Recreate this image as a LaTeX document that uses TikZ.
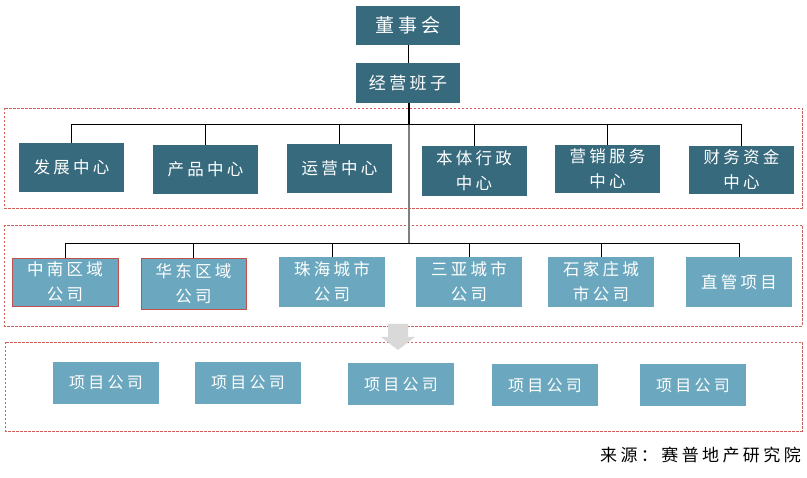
\documentclass[tikz,border=0pt]{standalone}
\usepackage{fontspec}
\newfontfamily\cjk[LetterSpace=20]{Noto Sans CJK SC}
\definecolor{darkteal}{HTML}{376A7D}
\definecolor{lightteal}{HTML}{6BA8BF}
\definecolor{redb}{HTML}{C0504D}
\definecolor{dashred}{HTML}{D0605A}
\definecolor{arrowgray}{HTML}{D9D9D9}
\definecolor{trunkgray}{HTML}{7F7F7F}
\begin{document}
\begin{tikzpicture}[x=1pt,y=-1pt,
  darkbox/.style={fill=darkteal,text=white,font=\cjk\fontsize{16.5}{25}\selectfont,align=center,inner sep=0pt,minimum width=105pt,minimum height=49pt},
  lightbox/.style={fill=lightteal,text=white,font=\cjk\fontsize{16.5}{25}\selectfont,align=center,inner sep=0pt,minimum width=106pt,minimum height=50pt},
  redbox/.style={lightbox,draw=redb,line width=0.9pt},
  projbox/.style={lightbox,minimum height=42pt,font=\cjk\fontsize{16}{20}\selectfont},
  group/.style={draw=dashred,dash pattern=on 2.5pt off 1.5pt,line width=0.7pt},
  conn/.style={draw=black,line width=0.9pt}
]
\useasboundingbox (0,0) rectangle (807,478);
% group frames
\draw[group] (4,108) rectangle (802,208);
\draw[group] (4,225) rectangle (802,326);
\draw[group] (5,342) rectangle (802,431);
% top
\node[darkbox,minimum width=104pt,minimum height=39pt,font=\cjk\fontsize{19}{24}\selectfont] (board) at (408,25.5) {董事会};
\node[darkbox,minimum width=104pt,minimum height=40pt,font=\cjk\fontsize{17}{24}\selectfont] (mgmt) at (408,83) {经营班子};
% row 1
\node[darkbox] (a1) at (71.5,167.5) {发展中心};
\node[darkbox] (a2) at (205.5,169.5) {产品中心};
\node[darkbox] (a3) at (339.5,168.5) {运营中心};
\node[darkbox,minimum height=50pt] (a4) at (474,171) {本体行政\\中心};
\node[darkbox,minimum height=48pt] (a5) at (607.5,169) {营销服务\\中心};
\node[darkbox,minimum height=48pt] (a6) at (741.5,170) {财务资金\\中心};
% row 2
\node[redbox,minimum height=48pt] (b1) at (65,282) {中南区域\\公司};
\node[redbox,minimum width=105pt,minimum height=51pt] (b2) at (193.5,283.5) {华东区域\\公司};
\node[lightbox] (b3) at (332,282) {珠海城市\\公司};
\node[lightbox] (b4) at (469,282) {三亚城市\\公司};
\node[lightbox] (b5) at (601,282) {石家庄城\\市公司};
\node[lightbox] (b6) at (739,282) {直管项目};
% row 3
\node[projbox] (c1) at (106,383) {项目公司};
\node[projbox] (c2) at (248,383) {项目公司};
\node[projbox] (c3) at (401,384.5) {项目公司};
\node[projbox] (c4) at (545,385.5) {项目公司};
\node[projbox] (c5) at (693,385.5) {项目公司};
% connectors
\coordinate (bus1) at (409,124.5);
\coordinate (bus2) at (409,243);
\draw[conn] (board) -- (mgmt);
\draw[conn,line width=1.6pt] (mgmt.south -| bus1) -- (bus1);
\draw[draw=trunkgray,line width=1.2pt] (bus1) -- (bus2);
\foreach \n in {a1,a2,a3,a4,a5,a6} \draw[conn] (\n.north) |- (bus1);
\foreach \n in {b1,b2,b3,b4,b5,b6} \draw[conn] (\n.north) |- (bus2);
% down arrow
\fill[arrowgray] (388,324) -- (408,324) -- (408,337) -- (415,337) -- (398,350) -- (381,337) -- (388,337) -- cycle;
% source
\node[anchor=east,inner sep=0pt,font=\cjk\fontsize{17}{18}\selectfont] (src) at (801,455) {来源：赛普地产研究院};
\end{tikzpicture}
\end{document}
